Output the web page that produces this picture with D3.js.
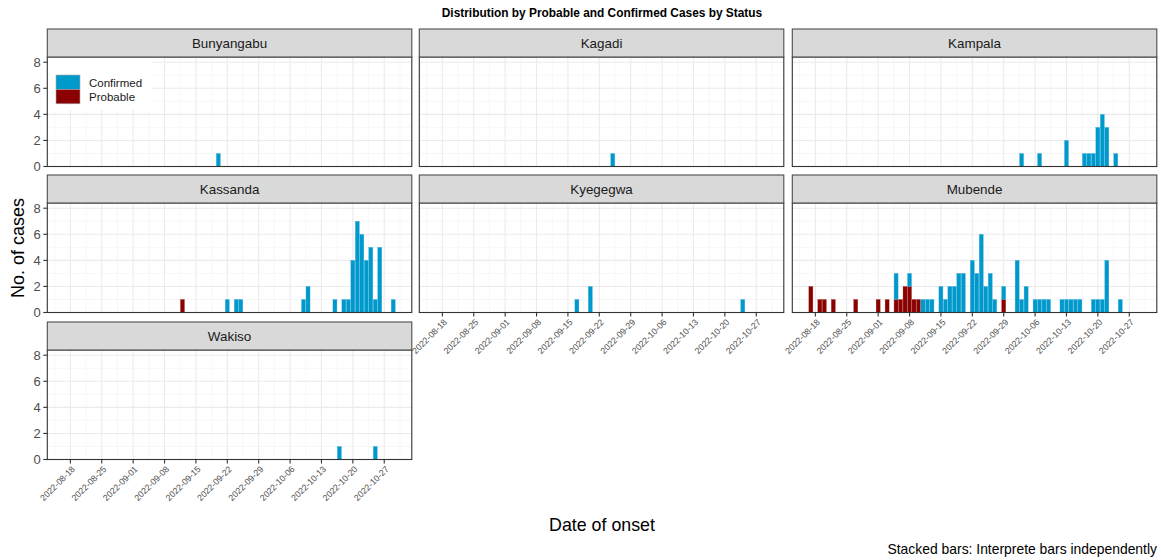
<!DOCTYPE html>
<html>
<head>
<meta charset="utf-8">
<script src="https://cdn.jsdelivr.net/npm/d3@7"></script>
<style>
  body { margin: 0; background: #fff; }
  svg { font-family: "Liberation Sans", Arial, sans-serif; }
</style>
</head>
<body>
<script>
'use strict';

// facets, in facet_wrap order
var districts = ["Bunyangabu", "Kagadi", "Kampala", "Kassanda", "Kyegegwa", "Mubende", "Wakiso"];

// [date of onset, confirmed, probable]
var bunyangabu = [["2022-09-20", 1, 0]];
var kagadi = [["2022-09-25", 1, 0]];
var kampala = [
  ["2022-10-03", 1, 0], ["2022-10-07", 1, 0], ["2022-10-13", 2, 0], ["2022-10-17", 1, 0],
  ["2022-10-18", 1, 0], ["2022-10-19", 1, 0], ["2022-10-20", 3, 0], ["2022-10-21", 4, 0],
  ["2022-10-22", 3, 0], ["2022-10-24", 1, 0]
];
var kassanda = [
  ["2022-09-12", 0, 1], ["2022-09-22", 1, 0], ["2022-09-24", 1, 0], ["2022-09-25", 1, 0],
  ["2022-10-09", 1, 0], ["2022-10-10", 2, 0], ["2022-10-16", 1, 0], ["2022-10-18", 1, 0],
  ["2022-10-19", 1, 0], ["2022-10-20", 4, 0], ["2022-10-21", 7, 0], ["2022-10-22", 6, 0],
  ["2022-10-23", 4, 0], ["2022-10-24", 5, 0], ["2022-10-25", 1, 0], ["2022-10-26", 5, 0],
  ["2022-10-29", 1, 0]
];
var kyegegwa = [["2022-09-17", 1, 0], ["2022-09-20", 2, 0], ["2022-10-24", 1, 0]];
var mubende = [
  ["2022-08-17", 0, 2], ["2022-08-19", 0, 1], ["2022-08-20", 0, 1], ["2022-08-22", 0, 1],
  ["2022-08-27", 0, 1], ["2022-09-01", 0, 1], ["2022-09-03", 0, 1], ["2022-09-05", 2, 1],
  ["2022-09-06", 0, 1], ["2022-09-07", 0, 2], ["2022-09-08", 1, 2], ["2022-09-09", 0, 1],
  ["2022-09-10", 0, 1], ["2022-09-11", 1, 0], ["2022-09-12", 1, 0], ["2022-09-13", 1, 0],
  ["2022-09-15", 2, 0], ["2022-09-16", 1, 0], ["2022-09-17", 2, 0], ["2022-09-18", 2, 0],
  ["2022-09-19", 3, 0], ["2022-09-20", 3, 0], ["2022-09-22", 4, 0], ["2022-09-23", 3, 0],
  ["2022-09-24", 6, 0], ["2022-09-25", 2, 0], ["2022-09-26", 3, 0], ["2022-09-27", 1, 0],
  ["2022-09-29", 1, 1], ["2022-10-02", 4, 0], ["2022-10-03", 1, 0], ["2022-10-04", 2, 0],
  ["2022-10-06", 1, 0], ["2022-10-07", 1, 0], ["2022-10-08", 1, 0], ["2022-10-09", 1, 0],
  ["2022-10-12", 1, 0], ["2022-10-13", 1, 0], ["2022-10-14", 1, 0], ["2022-10-15", 1, 0],
  ["2022-10-16", 1, 0], ["2022-10-19", 1, 0], ["2022-10-20", 1, 0], ["2022-10-21", 1, 0],
  ["2022-10-22", 4, 0], ["2022-10-25", 1, 0]
];
var wakiso = [["2022-10-17", 1, 0], ["2022-10-25", 1, 0]];

var casesByDistrict = [bunyangabu, kagadi, kampala, kassanda, kyegegwa, mubende, wakiso];

var statusLabels = ["Confirmed", "Probable"];
var statusColors = ["#0099CC", "#8B0000"];
var yTicks = [0, 2, 4, 6, 8];
var xTickLabels = ["2022-08-18", "2022-08-25", "2022-09-01", "2022-09-08", "2022-09-15",
  "2022-09-22", "2022-09-29", "2022-10-06", "2022-10-13", "2022-10-20", "2022-10-27"];

(function() {

  var width = 1161, height = 560;
  var colX = [47.3, 419.3, 792.3], panelW = 364.5;
  var stripTop = [29, 175, 322], stripH = 28, panelH = 109.5;
  var DAY = 864e5;

  var parse = d3.utcParse("%Y-%m-%d");

  var svg = d3.select("body").append("svg")
      .attr("width", width)
      .attr("height", height);

  // shared x domain (fixed scales across facets), bars 0.9 day wide, 5% expansion
  var allDates = [];
  casesByDistrict.forEach(function(rows) {
    rows.forEach(function(r) { allDates.push(parse(r[0]).getTime()); });
  });
  var lo = d3.min(allDates) - 0.45 * DAY, hi = d3.max(allDates) + 0.45 * DAY;
  var pad = (hi - lo) * 0.05;
  var xDomain = [new Date(lo - pad), new Date(hi + pad)];
  var tickDates = xTickLabels.map(parse);
  var minorDates = [];
  for (var i = -1; i < tickDates.length; i++) {
    minorDates.push(new Date((i < 0 ? tickDates[0].getTime() - 7 * DAY : tickDates[i].getTime()) + 3.5 * DAY));
  }

  districts.forEach(function(name, k) {
    var col = k % 3, row = Math.floor(k / 3);
    var x0 = colX[col], sy = stripTop[row];
    var top = sy + stripH, bottom = top + panelH;
    var isBottom = (k + 3 >= districts.length);

    var x = d3.scaleUtc().domain(xDomain).range([x0, x0 + panelW]);
    var y = d3.scaleLinear().domain([0, 8.4]).range([bottom, top]);

    var g = svg.append("g");

    // grid
    g.append("rect").attr("x", x0).attr("y", top).attr("width", panelW).attr("height", panelH).attr("fill", "#fff");
    g.selectAll(".ymin").data([1, 3, 5, 7]).enter().append("line")
        .attr("x1", x0).attr("x2", x0 + panelW).attr("y1", y).attr("y2", y)
        .attr("stroke", "#f2f2f2").attr("stroke-width", 0.6);
    g.selectAll(".xmin").data(minorDates.filter(function(d) { return d >= xDomain[0] && d <= xDomain[1]; }))
        .enter().append("line")
        .attr("x1", x).attr("x2", x).attr("y1", top).attr("y2", bottom)
        .attr("stroke", "#f2f2f2").attr("stroke-width", 0.6);
    g.selectAll(".ymaj").data(yTicks).enter().append("line")
        .attr("x1", x0).attr("x2", x0 + panelW).attr("y1", y).attr("y2", y)
        .attr("stroke", "#ebebeb").attr("stroke-width", 1.1);
    g.selectAll(".xmaj").data(tickDates).enter().append("line")
        .attr("x1", x).attr("x2", x).attr("y1", top).attr("y2", bottom)
        .attr("stroke", "#ebebeb").attr("stroke-width", 1.1);

    // legend sits inside the first panel, over the grid
    if (k === 0) {
      var lg = g.append("g");
      lg.append("rect").attr("x", x0).attr("y", top).attr("width", 105).attr("height", 53).attr("fill", "#fff");
      statusLabels.forEach(function(s, j) {
        lg.append("rect").attr("x", 56).attr("y", 75 + j * 14.4).attr("width", 24).attr("height", 14.4)
            .attr("fill", statusColors[j]).attr("stroke", "#aaaaaa").attr("stroke-width", 0.6);
        lg.append("text").attr("x", 89).attr("y", 82.5 + j * 14.4).attr("dy", "0.35em")
            .attr("font-size", "11.5px").attr("fill", "#1a1a1a").text(s);
      });
    }

    // stacked bars: confirmed on top of probable
    var rows = casesByDistrict[k];
    var barW = x(new Date(xDomain[0].getTime() + 0.9 * DAY)) - x(xDomain[0]);
    rows.forEach(function(r) {
      var cx = x(parse(r[0]));
      var conf = r[1], prob = r[2];
      if (prob > 0) {
        g.append("rect").attr("x", cx - barW / 2).attr("width", barW)
            .attr("y", y(prob)).attr("height", y(0) - y(prob))
            .attr("fill", statusColors[1]).attr("stroke", "#a33a3a").attr("stroke-width", 0.3);
      }
      if (conf > 0) {
        g.append("rect").attr("x", cx - barW / 2).attr("width", barW)
            .attr("y", y(prob + conf)).attr("height", y(prob) - y(prob + conf))
            .attr("fill", statusColors[0]).attr("stroke", "#3fb0dc").attr("stroke-width", 0.3);
      }
    });

    // panel border
    g.append("rect").attr("x", x0).attr("y", top).attr("width", panelW).attr("height", panelH)
        .attr("fill", "none").attr("stroke", "#333333").attr("stroke-width", 1.1);

    // strip
    g.append("rect").attr("x", x0).attr("y", sy).attr("width", panelW).attr("height", stripH)
        .attr("fill", "#d9d9d9").attr("stroke", "#4d4d4d").attr("stroke-width", 1.1);
    g.append("text").attr("x", x0 + panelW / 2).attr("y", sy + stripH / 2).attr("dy", "0.35em")
        .attr("text-anchor", "middle").attr("font-size", "13.4px").attr("fill", "#1a1a1a").text(name);

    // y axis on the first column only
    if (col === 0) {
      var ya = g.append("g");
      ya.selectAll("line").data(yTicks).enter().append("line")
          .attr("x1", x0 - 4).attr("x2", x0).attr("y1", y).attr("y2", y)
          .attr("stroke", "#333333").attr("stroke-width", 1.1);
      ya.selectAll("text").data(yTicks).enter().append("text")
          .attr("x", x0 - 6.5).attr("y", y).attr("dy", "0.36em").attr("text-anchor", "end")
          .attr("font-size", "13px").attr("fill", "#4d4d4d").text(function(d) { return d; });
    }

    // x axis on the bottom panel of each column
    if (isBottom) {
      var xa = g.append("g");
      xa.selectAll("line").data(tickDates).enter().append("line")
          .attr("x1", x).attr("x2", x).attr("y1", bottom).attr("y2", bottom + 4)
          .attr("stroke", "#333333").attr("stroke-width", 1.1);
      xa.selectAll("text").data(tickDates).enter().append("text")
          .attr("transform", function(d, j) { return "translate(" + (x(d) + 3) + "," + (bottom + 8) + ") rotate(-45)"; })
          .attr("text-anchor", "end").attr("dy", "0.35em")
          .attr("font-size", "8.8px").attr("fill", "#4d4d4d")
          .text(function(d, j) { return xTickLabels[j]; });
    }
  });

  // titles
  svg.append("text").attr("x", 602).attr("y", 13).attr("dy", "0.35em").attr("text-anchor", "middle")
      .attr("font-size", "11.9px").attr("font-weight", "bold").attr("fill", "#000")
      .text("Distribution by Probable and Confirmed Cases by Status");
  svg.append("text").attr("transform", "translate(18,248) rotate(-90)").attr("dy", "0.35em")
      .attr("text-anchor", "middle").attr("font-size", "18px").attr("fill", "#000").text("No. of cases");
  svg.append("text").attr("x", 602).attr("y", 525).attr("dy", "0.35em").attr("text-anchor", "middle")
      .attr("font-size", "17.8px").attr("fill", "#000").text("Date of onset");
  svg.append("text").attr("x", 1157).attr("y", 549).attr("dy", "0.35em").attr("text-anchor", "end")
      .attr("font-size", "13.9px").attr("fill", "#000").text("Stacked bars: Interprete bars independently");

})();
</script>
</body>
</html>
